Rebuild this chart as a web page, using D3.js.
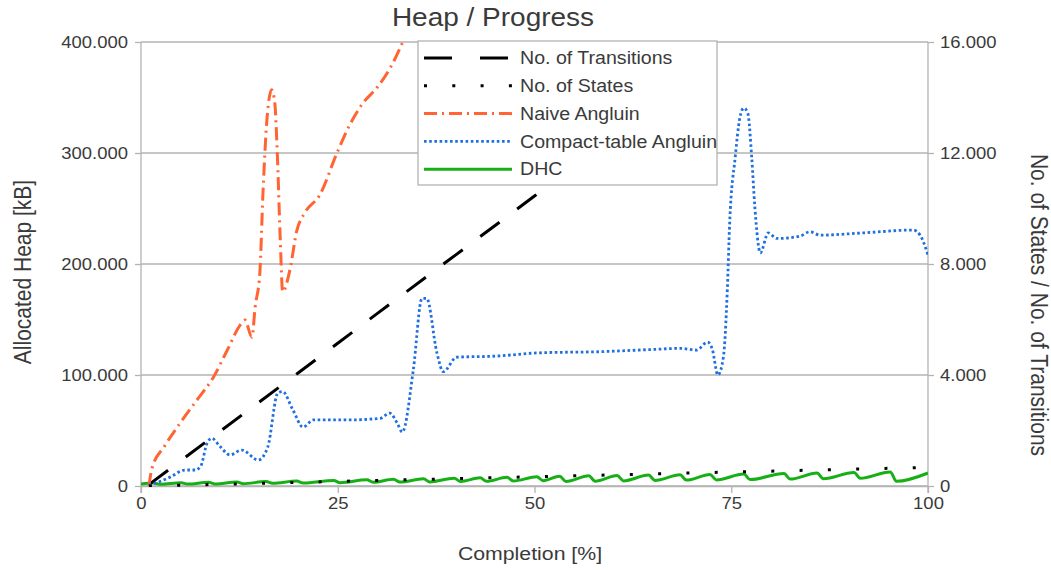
<!DOCTYPE html>
<html lang="en">
<head>
    <meta charset="UTF-8">
    <title>Heap / Progress</title>
    <script src="https://d3js.org/d3.v7.min.js"></script>
    <style>
        body { margin: 0; background: #fff; }
        text { font-family: 'Liberation Sans', Arial, sans-serif; fill: #3a3a3a; }
        .axis path, .axis line { stroke: #b3b3b3; }
    </style>
</head>
<body>
    <div id="chart"></div>
    <script>
        const width = 1051;
        const height = 570;
        const stretch = 1.12; // text in the picture is a bit wider than tall

        // --- data ---
        const completion = [0, 25, 50, 75, 100];
        const heapTicks = [0, 100000, 200000, 300000, 400000];
        const countTicks = [0, 4000, 8000, 12000, 16000];

        // No. of Transitions (right axis)
        const transX = [1, 10, 20, 30, 40, 50, 60];
        const transV = [50, 1960, 4080, 6210, 8330, 10450, 12580];

        // No. of States (right axis)
        const statesX = [1, 10, 20, 30, 40, 50, 60, 70, 80, 90, 100];
        const statesV = [0, 60, 130, 200, 265, 335, 400, 470, 535, 605, 670];

        // Naive Angluin (left axis, kB)
        const naiveX = [1, 1.4, 3, 5, 7, 9.2, 11, 12.6, 13.2, 14.1, 14.5, 15.1, 15.5, 16.0, 16.6, 17.0, 17.3, 17.7, 18.0, 18.9, 19.8, 20.8, 22.7, 24.9, 26.5, 28.2, 30, 32, 33.2, 34.5];
        const naiveV = [0, 16000, 36000, 57000, 76500, 98000, 123000, 145000, 149500, 134000, 161000, 192000, 264000, 330000, 357000, 345000, 303000, 221000, 175000, 194000, 230000, 246000, 262000, 300000, 325000, 345000, 359000, 381000, 399000, 420000];

        // Compact-table Angluin (left axis, kB)
        const compactX = [1, 2, 3.7, 5.6, 6.9, 7.6, 8.4, 9.0, 10, 11.3, 12.8, 14.9, 16.1, 17.4, 18.0, 19.3, 20.6, 21.9, 26.2, 30.4, 31.6, 32.6, 33.2, 34.6, 35.7, 36.3, 37.6, 38.4, 40.1, 45, 50.7, 58.3, 65, 68.5, 70.6, 72, 72.6, 73.3, 74, 74.5, 74.8, 75.5, 76.1, 76.6, 77.1, 77.6, 78.0, 78.7, 79.7, 80.8, 83.7, 85, 86.3, 91.7, 98.1, 99, 100];
        const compactV = [1000, 3000, 8000, 14400, 14400, 18000, 38700, 43000, 36000, 28000, 32400, 23400, 35000, 84000, 85000, 68500, 53000, 59500, 59500, 61000, 65700, 56000, 48600, 104500, 169000, 169000, 120000, 103000, 116000, 117000, 120000, 121000, 123000, 124000, 122500, 129700, 123000, 100000, 116000, 176600, 237000, 296000, 332000, 340500, 336000, 296000, 251000, 210000, 228000, 223000, 225000, 229000, 226000, 228000, 230600, 226000, 208000];

        // DHC (left axis, kB)
        const dhcX = [0, 1.6, 2.4, 5.1, 5.9, 8.6, 9.4, 12.2, 13.0, 15.9, 16.7, 19.8, 20.6, 24.5, 25.3, 28.7, 29.5, 32.1, 32.9, 35.9, 36.7, 39.8, 40.6, 43.1, 43.9, 46.5, 47.3, 50.3, 51.1, 53.2, 54.0, 56.9, 57.7, 60.5, 61.3, 64.5, 65.3, 68.5, 69.3, 72.3, 73.1, 76.6, 77.4, 81.7, 82.5, 85.9, 86.7, 90.6, 91.4, 95.2, 96.0, 100];
        const dhcV = [1800, 2800, 1500, 3000, 1700, 3300, 1900, 3600, 2100, 4000, 2400, 4400, 2700, 5000, 3000, 5600, 3300, 6000, 3500, 6500, 3700, 7000, 4000, 7400, 4200, 7800, 4500, 8300, 4800, 8800, 4000, 9200, 4300, 9500, 4600, 9800, 5000, 10100, 5300, 10400, 5500, 10800, 5800, 11200, 6200, 11600, 6500, 12100, 6900, 12600, 4200, 11700];

        const seriesNames = ["No. of Transitions", "No. of States", "Naive Angluin", "Compact-table Angluin", "DHC"];

        // --- scales ---
        const plotLeft = 141, plotRight = 928, plotTop = 42, plotBottom = 486;
        const x = d3.scaleLinear().domain([0, 100]).range([plotLeft, plotRight]);
        const yHeap = d3.scaleLinear().domain([0, 400000]).range([plotBottom, plotTop]);
        const yCount = d3.scaleLinear().domain([0, 16000]).range([plotBottom, plotTop]);

        const fmt = d3.formatLocale({ decimal: ",", thousands: ".", grouping: [3], currency: ["", ""] }).format(",");

        const svg = d3.select("#chart").append("svg")
            .attr("width", width)
            .attr("height", height);

        svg.append("defs").append("clipPath").attr("id", "plot")
            .append("rect").attr("x", plotLeft).attr("y", plotTop - 1)
            .attr("width", plotRight - plotLeft).attr("height", plotBottom - plotTop + 2);

        // gridlines
        svg.append("g").selectAll("line")
            .data(heapTicks)
            .enter().append("line")
            .attr("x1", plotLeft).attr("x2", plotRight)
            .attr("y1", d => yHeap(d)).attr("y2", d => yHeap(d))
            .attr("stroke", "#b3b3b3").attr("stroke-width", 1.3);

        // axes
        const axisLeft = svg.append("g").attr("class", "axis")
            .attr("transform", `translate(${plotLeft},0)`)
            .call(d3.axisLeft(yHeap).tickValues(heapTicks).tickFormat(fmt).tickSize(6).tickSizeOuter(0));
        const axisRight = svg.append("g").attr("class", "axis")
            .attr("transform", `translate(${plotRight},0)`)
            .call(d3.axisRight(yCount).tickValues(countTicks).tickFormat(fmt).tickSize(6).tickSizeOuter(0));
        const axisBottom = svg.append("g").attr("class", "axis")
            .attr("transform", `translate(0,${plotBottom})`)
            .call(d3.axisBottom(x).tickValues(completion).tickSize(7).tickSizeOuter(0));

        [axisLeft, axisRight, axisBottom].forEach(a => {
            a.select(".domain").attr("stroke", "#b3b3b3").attr("stroke-width", 1.3);
            a.selectAll(".tick line").attr("stroke", "#b3b3b3").attr("stroke-width", 1.3);
            a.selectAll("text").style("font-size", "16.5px").attr("fill", "#3a3a3a")
                .attr("transform", `scale(${stretch},1)`);
        });
        axisLeft.select(".domain").attr("d", `M0,${plotTop}V${plotBottom + 7}`);
        axisRight.select(".domain").attr("d", `M0,${plotTop}V${plotBottom + 7}`);
        axisLeft.selectAll("text").attr("x", -13 / stretch);
        axisRight.selectAll("text").attr("x", 12 / stretch);
        axisBottom.selectAll("text").attr("y", 11).attr("dy", "0.71em");

        // text helper, stretched horizontally like the reference
        function label(txt, px, py, size, anchor, rot) {
            svg.append("text")
                .attr("transform", `translate(${px},${py}) scale(${stretch},1)` + (rot ? ` rotate(${rot})` : ""))
                .attr("text-anchor", anchor)
                .style("font-size", size + "px")
                .text(txt);
        }

        label("Heap / Progress", 493, 26, 25, "middle");
        label("Completion [%]", 530, 560, 19, "middle");
        label("Allocated Heap [kB]", 31, 272, 21, "middle", -90);
        label("No. of States / No. of Transitions", 1031, 305, 21, "middle", 90);

        // lines
        const plot = svg.append("g").attr("clip-path", "url(#plot)");
        const lineOf = (xs, vs, yScale) => d3.line()
            .x(i => x(xs[i]))
            .y(i => yScale(vs[i]))
            .curve(d3.curveMonotoneX)(d3.range(xs.length));

        const styles = [
            { color: "#000000", dash: "24,22", w: 3 },
            { color: "#000000", dash: "3,25.3", w: 3 },
            { color: "#ff6432", dash: "13,5,2,5", w: 3 },
            { color: "#1f6fdf", dash: "2.6,2.6", w: 2.8 },
            { color: "#16b016", dash: null, w: 3 }
        ];

        const paths = [
            lineOf(transX, transV, yCount),
            lineOf(statesX, statesV, yCount),
            lineOf(naiveX, naiveV, yHeap),
            lineOf(compactX, compactV, yHeap),
            lineOf(dhcX, dhcV, yHeap)
        ];

        // draw order: DHC at bottom, states dots on top of it
        [4, 0, 2, 3, 1].forEach(i => {
            plot.append("path")
                .attr("d", paths[i])
                .attr("fill", "none")
                .attr("stroke", styles[i].color)
                .attr("stroke-width", styles[i].w)
                .attr("stroke-dasharray", styles[i].dash);
        });

        // legend
        const legend = svg.append("g");
        legend.append("rect")
            .attr("x", 418).attr("y", 41).attr("width", 299).attr("height", 144)
            .attr("fill", "#fff").attr("stroke", "#b3b3b3").attr("stroke-width", 1.3);

        const items = legend.selectAll(".legend-item")
            .data(seriesNames)
            .enter().append("g")
            .attr("class", "legend-item")
            .attr("transform", (d, i) => `translate(0,${58 + i * 27.8})`);

        items.append("line")
            .attr("x1", 424).attr("x2", 512)
            .attr("stroke", (d, i) => styles[i].color)
            .attr("stroke-width", (d, i) => styles[i].w)
            .attr("stroke-dasharray", (d, i) => i === 0 ? "28,28" : (i === 1 ? "3,25.3" : styles[i].dash));

        items.append("text")
            .attr("transform", `translate(520,0) scale(${stretch},1)`)
            .attr("dy", "0.35em")
            .style("font-size", "17.5px")
            .text(d => d);
    </script>
</body>
</html>
